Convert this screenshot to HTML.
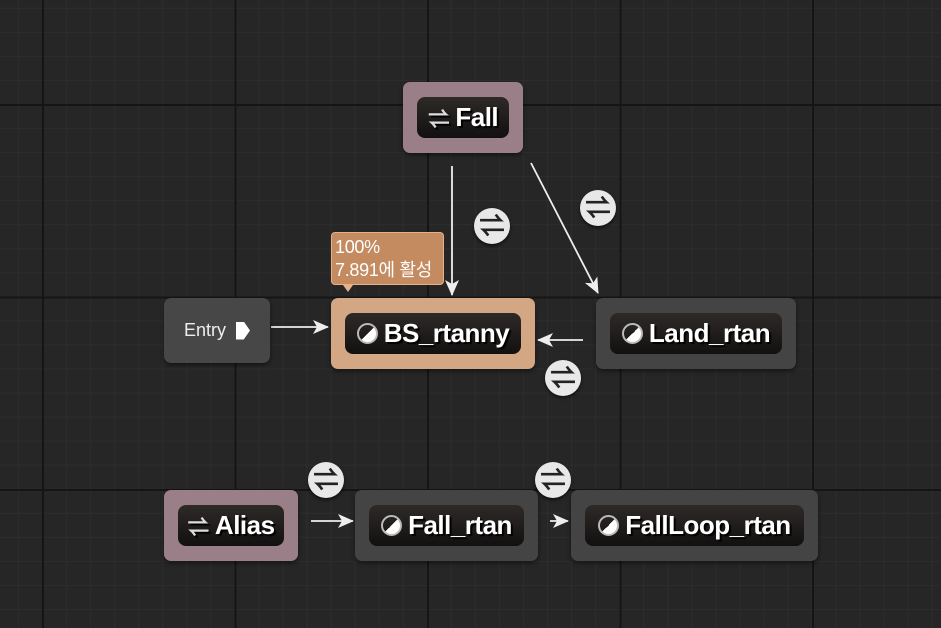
<!DOCTYPE html>
<html><head><meta charset="utf-8"><style>
body{margin:0;width:941px;height:628px;overflow:hidden;background:#262626;font-family:"Liberation Sans","Noto Sans CJK KR",sans-serif;position:relative}
.grid{position:absolute;inset:0;background-image:
linear-gradient(#151515 2px,transparent 2px),linear-gradient(90deg,#151515 2px,transparent 2px),
linear-gradient(#2d2d2d 1px,transparent 1px),linear-gradient(90deg,#2d2d2d 1px,transparent 1px);
background-size:192.5px 192.5px,192.5px 192.5px,24.06px 24.06px,24.06px 24.06px;
background-position:42px 104px,42px 104px,42px 104px,42px 104px}
.n{position:absolute;border-radius:7px;box-shadow:0 2px 4px rgba(0,0,0,.5)}
.in{position:absolute;left:14px;right:14px;top:15px;bottom:15px;background:linear-gradient(#2e2a28,#121010);border-radius:8px;color:#fff;font-weight:bold;font-size:26px;letter-spacing:-0.5px;display:flex;align-items:center;justify-content:center;text-shadow:2px 2px 1px #000;white-space:nowrap}
.ic{display:inline-block;width:21px;height:21px;border-radius:50%;border:2px solid #bbb;background:linear-gradient(135deg,transparent 50%,#fff 50%);margin-right:6px;box-sizing:border-box}
.sw{font-size:22px;margin-right:6px;color:#ddd}
.t{position:absolute;width:36px;height:36px;border-radius:50%;background:#e8e8e8;box-shadow:0 2px 3px rgba(0,0,0,.6);color:#222;font-size:26px;line-height:36px;text-align:center;font-weight:bold}
</style></head><body>
<div class="grid"></div>
<svg width="941" height="628" style="position:absolute;left:0;top:0">
<defs><marker id="a" markerWidth="16" markerHeight="16" refX="15" refY="8" orient="auto" markerUnits="userSpaceOnUse"><path d="M0,1L16,8L0,15L4,8z" fill="#eee"/></marker></defs>
<g stroke="#eee" stroke-width="1.8" fill="none" marker-end="url(#a)">
<line x1="452" y1="166" x2="452" y2="295"/>
<line x1="531" y1="163" x2="598" y2="293"/>
<line x1="271" y1="327" x2="328" y2="327"/>
<line x1="583" y1="340" x2="538" y2="340"/>
<line x1="311" y1="521" x2="353" y2="521"/>
<line x1="550" y1="521" x2="568" y2="521"/>
</g></svg>
<div class="n" style="left:403px;top:82px;width:120px;height:71px;background:#9a7f88"><div class="in"><span class="sw">⇌</span>Fall</div></div>
<div class="n" style="left:164px;top:298px;width:106px;height:65px;background:#474747;color:#eee;font-size:18px;display:flex;align-items:center;justify-content:center">Entry&nbsp;&nbsp;<span style="display:inline-block;width:14px;height:18px;background:#fff;clip-path:polygon(0 0,55% 0,100% 50%,55% 100%,0 100%)"></span></div>
<div class="n" style="left:331px;top:298px;width:204px;height:71px;background:#d4a784"><div class="in"><span class="ic"></span>BS_rtanny</div></div>
<div class="n" style="left:596px;top:298px;width:200px;height:71px;background:#444"><div class="in"><span class="ic"></span>Land_rtan</div></div>
<div class="n" style="left:164px;top:490px;width:134px;height:71px;background:#9a7f88"><div class="in"><span class="sw">⇌</span>Alias</div></div>
<div class="n" style="left:355px;top:490px;width:183px;height:71px;background:#444"><div class="in"><span class="ic"></span>Fall_rtan</div></div>
<div class="n" style="left:571px;top:490px;width:247px;height:71px;background:#444"><div class="in"><span class="ic"></span>FallLoop_rtan</div></div>
<div style="position:absolute;left:331px;top:232px;width:113px;height:53px;background:#c48a60;border:1px solid #e8b089;border-radius:4px;color:#fff;font-size:18px;line-height:23px;padding:3px 0 0 3px;box-sizing:border-box;white-space:nowrap;letter-spacing:-0.3px">100%<br>7.891에 활성</div>
<div style="position:absolute;left:343px;top:285px;width:0;height:0;border-left:5px solid transparent;border-right:5px solid transparent;border-top:7px solid #e8b089"></div>
<div class="t" style="left:474px;top:208px">⇌</div>
<div class="t" style="left:580px;top:190px">⇌</div>
<div class="t" style="left:545px;top:360px">⇌</div>
<div class="t" style="left:308px;top:462px">⇌</div>
<div class="t" style="left:535px;top:462px">⇌</div>
</body></html>
